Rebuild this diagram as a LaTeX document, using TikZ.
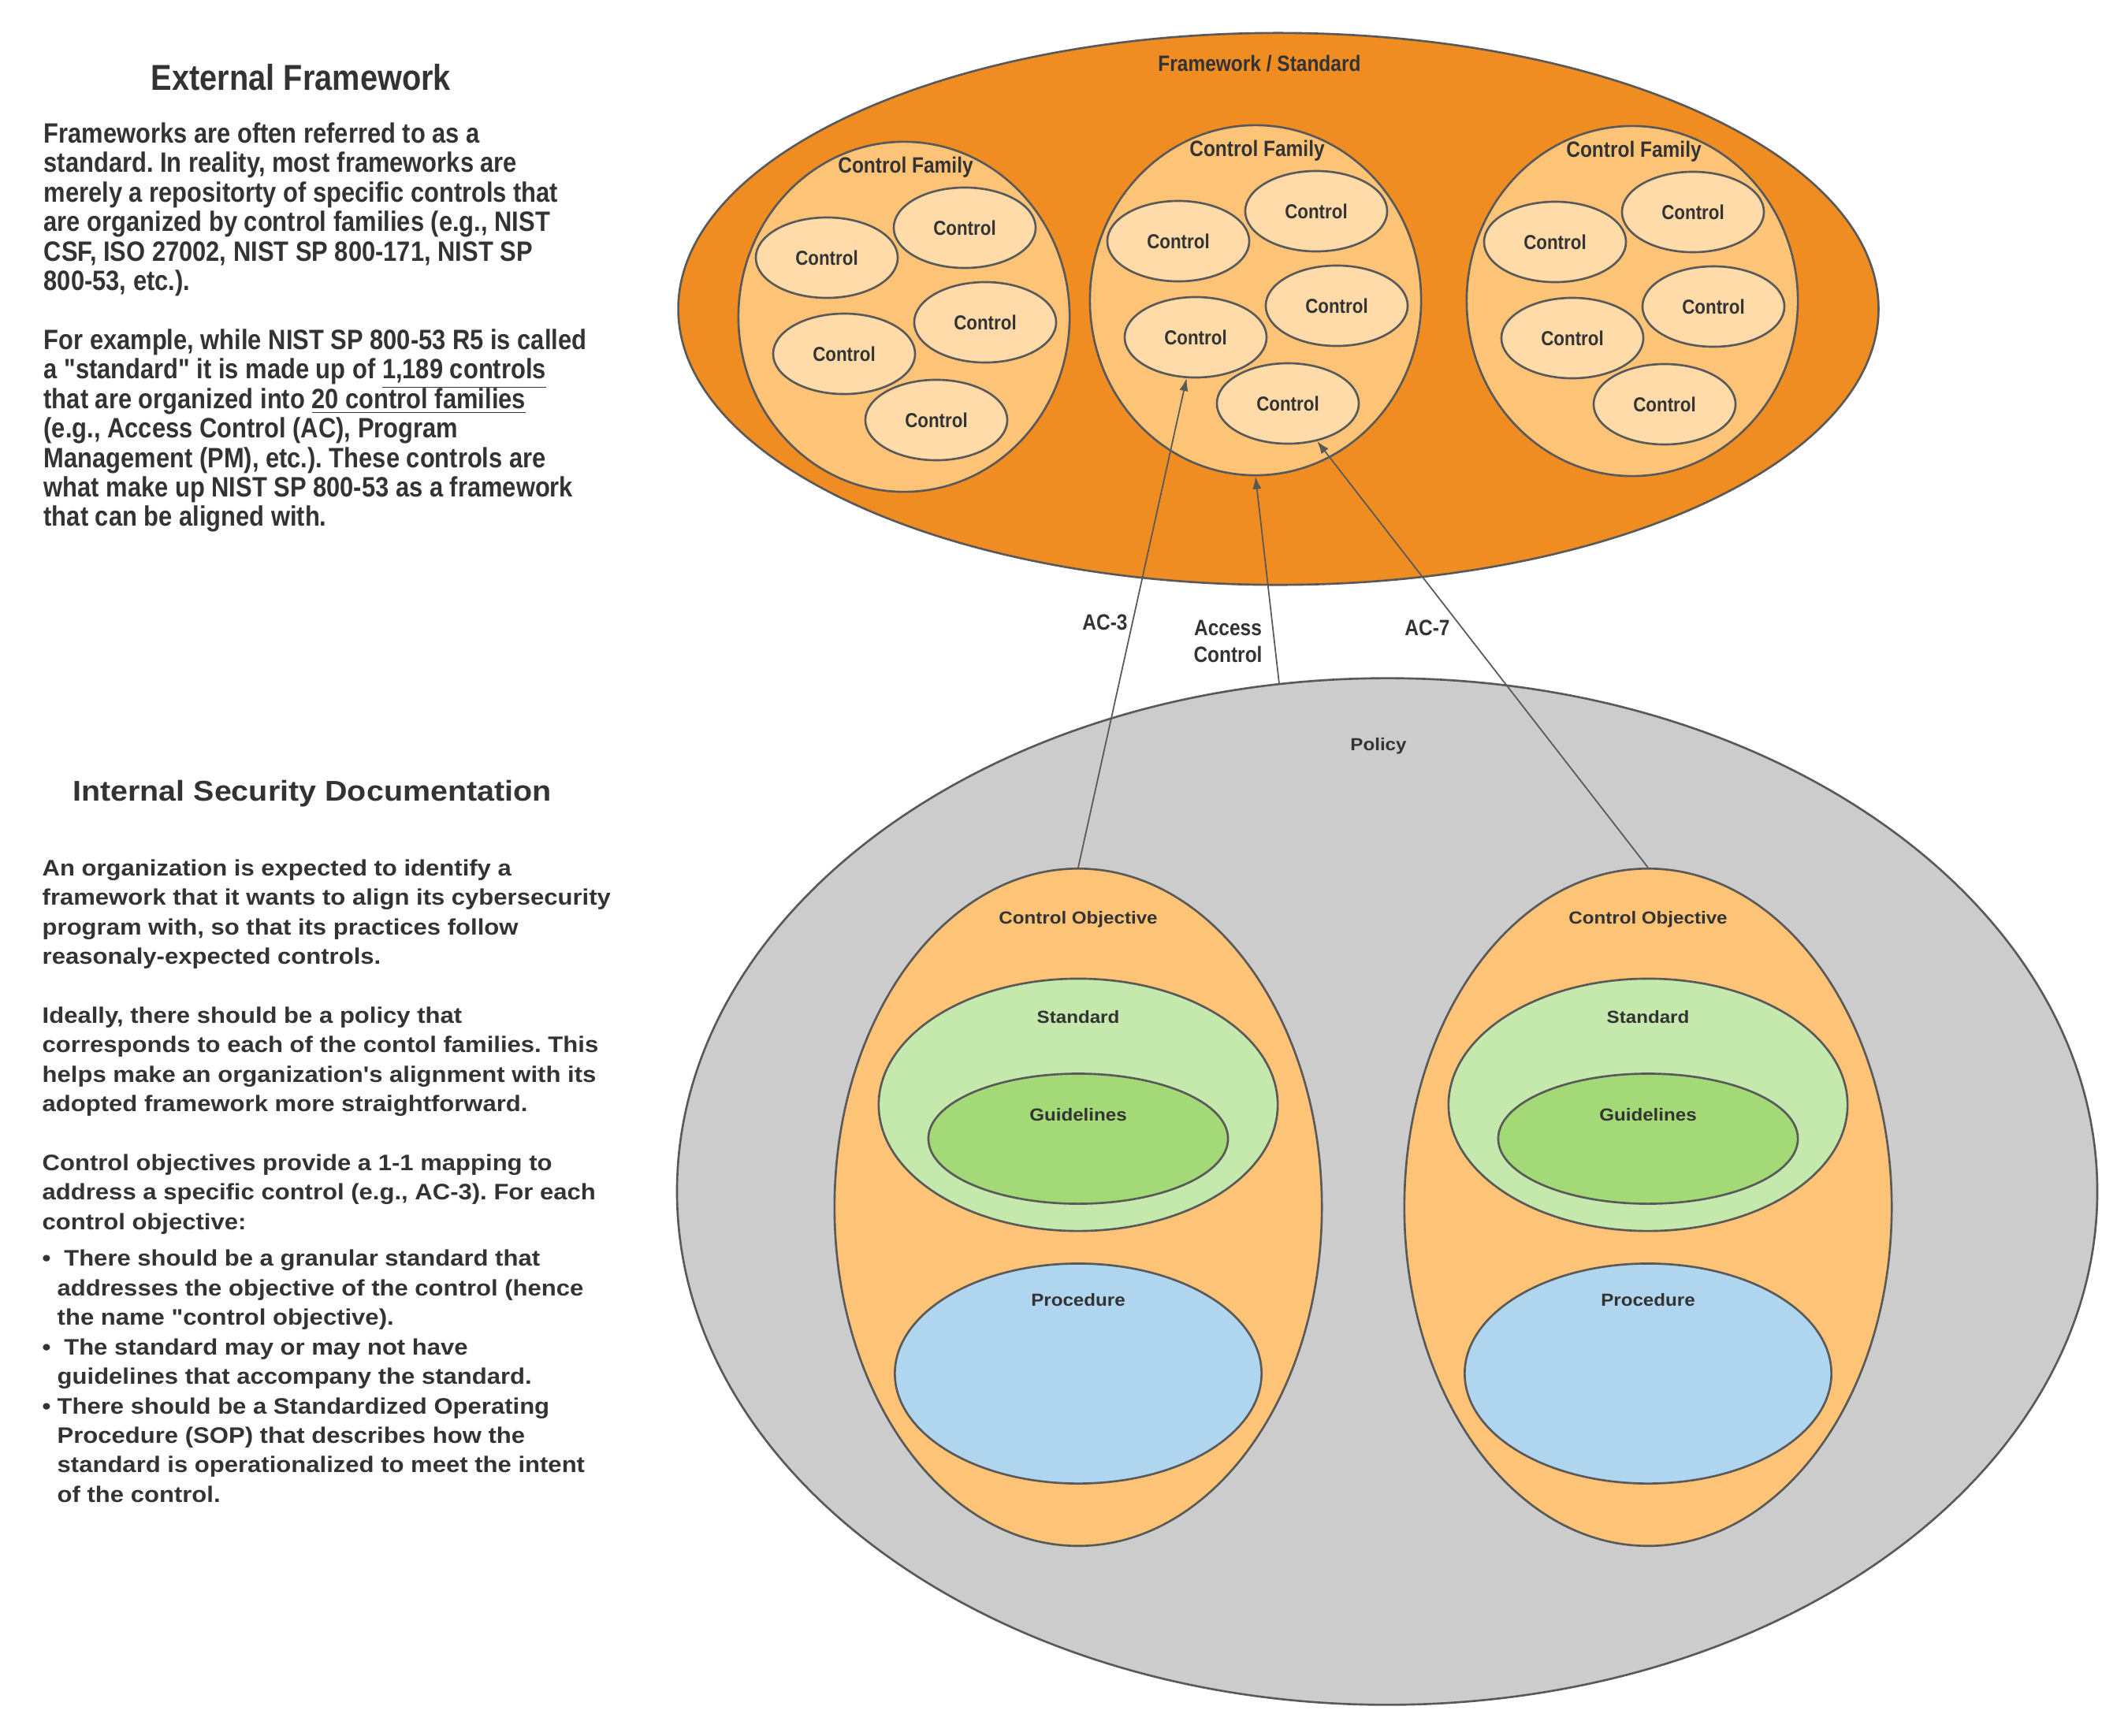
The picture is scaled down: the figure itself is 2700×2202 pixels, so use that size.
\documentclass[tikz,border=0pt]{standalone}
\usepackage{fontspec}
\setmainfont{Liberation Sans}
\newfontfamily\narrowfont{Liberation Sans}[FakeStretch=0.87]
\newfontfamily\widefont{Liberation Sans}[FakeStretch=1.09]
\usepackage{tikz}
\usetikzlibrary{arrows.meta, shapes.geometric}
\frenchspacing

\definecolor{fwOrange}{HTML}{EF8C22}
\definecolor{famOrange}{HTML}{FDC376}
\definecolor{ctrlFill}{HTML}{FEDBA8}
\definecolor{polGray}{HTML}{CCCCCC}
\definecolor{stdGreen}{HTML}{C5E8AD}
\definecolor{guideGreen}{HTML}{A3D977}
\definecolor{procBlue}{HTML}{B0D5EF}
\definecolor{edgeGray}{HTML}{595959}
\definecolor{txtGray}{HTML}{333333}

\newcommand{\ulflat}[1]{\smash{\underline{#1}}}

\tikzset{
  blob/.style={ellipse, draw=edgeGray, line width=0.75pt, inner sep=0pt},
  ctrl/.style={blob, fill=ctrlFill, minimum width=1.8cm, minimum height=1.02cm,
    font=\narrowfont\bfseries\fontsize{7.3}{8}\selectfont},
  narrowlbl/.style={font=\narrowfont\bfseries\fontsize{8}{9.5}\selectfont, align=center},
  widelbl/.style={font=\widefont\bfseries\fontsize{6.3}{7.5}\selectfont},
  conn/.style={draw=edgeGray, line width=0.5pt, -{Latex[length=4.6pt, width=3.2pt]}},
}

\begin{document}
\begin{tikzpicture}[x=0.01cm, y=-0.01cm, every node/.style={text=txtGray}]
  \useasboundingbox (0,0) rectangle (2700,2202);

  % Left-hand text -----------------------------------------------------------
  \node[font=\narrowfont\bfseries\fontsize{13}{15}\selectfont] (hExt) at (382,98)
    {External Framework};
  \node[anchor=north west, align=left, inner sep=0pt,
        font=\narrowfont\bfseries\fontsize{10.1}{10.64}\selectfont] (txtExt) at (55,155)
    {Frameworks are often referred to as a\\
     standard. In reality, most frameworks are\\
     merely a repositorty of specific controls that\\
     are organized by control families (e.g., NIST\\
     CSF, ISO 27002, NIST SP 800-171, NIST SP\\
     800-53, etc.).\\[10.64pt]
     For example, while NIST SP 800-53 R5 is called\\
     a "standard" it is made up of \ulflat{1,189 controls}\\
     that are organized into \ulflat{20 control families}\\
     (e.g., Access Control (AC), Program\\
     Management (PM), etc.). These controls are\\
     what make up NIST SP 800-53 as a framework\\
     that can be aligned with.};

  \node[font=\widefont\bfseries\fontsize{10.3}{12}\selectfont] (hInt) at (396,1007)
    {Internal Security Documentation};
  \node[anchor=north west, align=left, inner sep=0pt,
        font=\widefont\bfseries\fontsize{8.1}{10.64}\selectfont] (txtInt) at (53,1090)
    {An organization is expected to identify a\\
     framework that it wants to align its cybersecurity\\
     program with, so that its practices follow\\
     reasonaly-expected controls.\\[10.64pt]
     Ideally, there should be a policy that\\
     corresponds to each of the contol families. This\\
     helps make an organization's alignment with its\\
     adopted framework more straightforward.\\[10.64pt]
     Control objectives provide a 1-1 mapping to\\
     address a specific control (e.g., AC-3). For each\\
     control objective:\\[2.6pt]
     \makebox[5.4pt][l]{\textbullet}\ There should be a granular standard that\\
     \hspace*{5.4pt}addresses the objective of the control (hence\\
     \hspace*{5.4pt}the name "control objective).\\
     \makebox[5.4pt][l]{\textbullet}\ The standard may or may not have\\
     \hspace*{5.4pt}guidelines that accompany the standard.\\
     \makebox[5.4pt][l]{\textbullet}There should be a Standardized Operating\\
     \hspace*{5.4pt}Procedure (SOP) that describes how the\\
     \hspace*{5.4pt}standard is operationalized to meet the intent\\
     \hspace*{5.4pt}of the control.};

  % Framework with its control families --------------------------------------
  \node[blob, fill=fwOrange, minimum width=15.22cm, minimum height=7.0cm] (fw) at (1622,392) {};
  \node[narrowlbl] (fwLbl) at (1598,81) {Framework / Standard};

  \foreach \fx/\fy/\fn in {1147/402/l, 1593/381/m, 2071/382/r} {
    \node[blob, fill=famOrange, minimum width=4.2cm, minimum height=4.44cm] (f\fn) at (\fx,\fy) {};
    \node[narrowlbl] (f\fn Lbl) at ({\fx+2},{\fy-190}) {Control Family};
    \foreach \dx/\dy [count=\i] in {-98/-75, 77/-113, 103/7, -76/47, 41/131}
      \node[ctrl] (\fn\i) at ({\fx+\dx},{\fy+\dy}) {Control};
  }

  % Policy with its control objectives ---------------------------------------
  \node[blob, fill=polGray, minimum width=18.01cm, minimum height=13.02cm] (pol) at (1760,1512) {};
  \node[widelbl] (polLbl) at (1749,947) {Policy};

  \foreach \ox/\on in {1368/L, 2091/R} {
    \node[blob, fill=famOrange, minimum width=6.18cm, minimum height=8.59cm] (co\on) at (\ox,1532) {};
    \node[widelbl] (co\on Lbl) at (\ox,1167) {Control Objective};
    \node[blob, fill=stdGreen, minimum width=5.06cm, minimum height=3.2cm] (std\on) at (\ox,1402) {};
    \node[widelbl] (std\on Lbl) at (\ox,1291) {Standard};
    \node[blob, fill=guideGreen, minimum width=3.8cm, minimum height=1.65cm] (gd\on) at (\ox,1445) {};
    \node[widelbl] (gd\on Lbl) at (\ox,1415) {Guidelines};
    \node[blob, fill=procBlue, minimum width=4.65cm, minimum height=2.79cm] (pr\on) at (\ox,1743) {};
    \node[widelbl] (pr\on Lbl) at (\ox,1650) {Procedure};
  }

  % Mappings -----------------------------------------------------------------
  \draw[conn] (coL.north) -- (m4);
  \draw[conn] (pol.102) -- (fm.south);
  \draw[conn] (coR.north) -- (m5);
  \node[narrowlbl] (lblAC3) at (1402,790) {AC-3};
  \node[narrowlbl] (lblAC) at (1558,814) {Access\\Control};
  \node[narrowlbl] (lblAC7) at (1811,797) {AC-7};

\end{tikzpicture}
\end{document}
